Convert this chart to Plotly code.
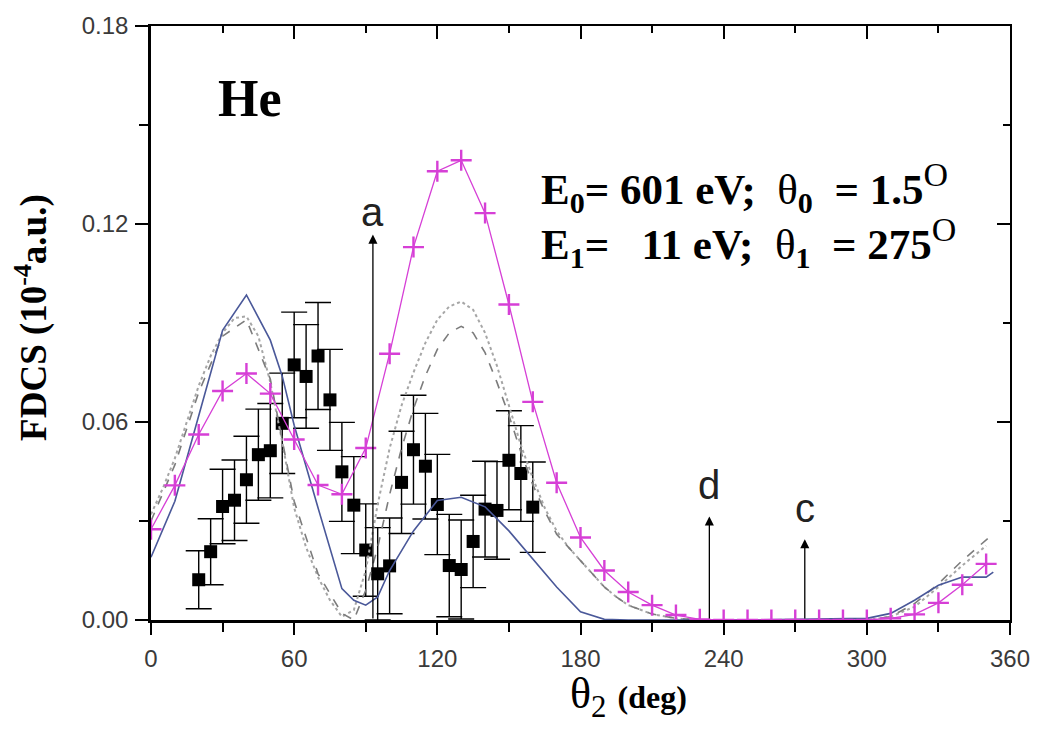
import plotly.graph_objects as go

# ---- experimental FDCS (black squares with error bars) ----
exp_theta = [20, 25, 30, 35, 40, 45, 50, 55, 60, 65, 70, 75, 80, 85, 90, 95, 100,
             105, 110, 115, 120, 125, 130, 135, 140, 145, 150, 155, 160]
exp_fdcs = [0.0122, 0.0207, 0.0344, 0.0363, 0.0425, 0.0501, 0.0513, 0.0596, 0.0773,
            0.0738, 0.0800, 0.0667, 0.0449, 0.0348, 0.0212, 0.0140, 0.0164,
            0.0417, 0.0516, 0.0466, 0.0350, 0.0165, 0.0153, 0.0238, 0.0336,
            0.0332, 0.0484, 0.0444, 0.0342]
exp_err = [0.0088, 0.0100, 0.0113, 0.0122, 0.0132, 0.0138, 0.0143, 0.0152, 0.0160,
           0.0157, 0.0162, 0.0153, 0.0150, 0.0147, 0.0140, 0.0140, 0.0145,
           0.0155, 0.0165, 0.0160, 0.0152, 0.0155, 0.0150, 0.0140, 0.0145,
           0.0148, 0.0150, 0.0145, 0.0137]

# ---- theory with crosses (magenta) ----
cross_theta = [0, 10, 20, 30, 40, 50, 60, 70, 80, 90, 100, 110, 120, 130, 140, 150,
               160, 170, 180, 190, 200, 210, 220, 230, 240, 250, 260, 270, 280, 290,
               300, 310, 320, 330, 340, 350]
cross_fdcs = [0.0275, 0.0408, 0.0562, 0.0694, 0.0747, 0.0686, 0.0547, 0.0409, 0.0381,
              0.0521, 0.0807, 0.1130, 0.1360, 0.1393, 0.1233, 0.0956, 0.0661, 0.0416,
              0.0250, 0.0150, 0.0085, 0.0045, 0.0015, 0.0002, 0.0, 0.0, 0.0, 0.0, 0.0,
              0.0, 0.0, 0.0005, 0.0017, 0.0052, 0.0107, 0.0170]

# ---- theory, solid blue ----
blue_theta = [0, 10, 20, 30, 40, 50, 55, 60, 70, 80, 85, 90, 95, 100, 110, 120, 130,
              140, 150, 160, 170, 180, 190, 200, 250, 300, 310, 320, 330, 340, 350, 353]
blue_fdcs = [0.0190, 0.0360, 0.0619, 0.0878, 0.0985, 0.0848, 0.0739, 0.0590, 0.0340,
             0.0095, 0.0060, 0.0045, 0.0070, 0.0150, 0.0270, 0.0362, 0.0372, 0.0343,
             0.0270, 0.0185, 0.0100, 0.0025, 0.0002, 0.0, 0.0, 0.0005, 0.0020,
             0.0060, 0.0105, 0.0130, 0.0130, 0.0145]

# ---- theory, dotted grey ----
dot_theta = [0, 5, 10, 15, 20, 25, 30, 35, 40, 45, 50, 55, 60, 65, 70, 75, 80, 85, 90,
             95, 100, 105, 110, 115, 120, 125, 130, 135, 140, 145, 150, 155, 160, 165,
             170, 175, 180, 185, 190, 195, 200, 210, 220, 230, 300, 310, 320, 330,
             340, 350]
dot_fdcs = [0.0320, 0.0400, 0.0490, 0.0600, 0.0710, 0.0800, 0.0870, 0.0915, 0.0920,
            0.0860, 0.0720, 0.0540, 0.0340, 0.0220, 0.0130, 0.0060, 0.0010, 0.0030,
            0.0150, 0.0350, 0.0520, 0.0650, 0.0750, 0.0840, 0.0910, 0.0950, 0.0965,
            0.0940, 0.0870, 0.0770, 0.0650, 0.0530, 0.0430, 0.0340, 0.0270, 0.0220,
            0.0180, 0.0140, 0.0100, 0.0070, 0.0045, 0.0018, 0.0005, 0.0, 0.0,
            0.0010, 0.0040, 0.0100, 0.0165, 0.0225]

# ---- theory, dashed grey ----
dash_theta = [0, 10, 20, 30, 40, 50, 60, 70, 80, 85, 90, 95, 100, 105, 110, 115, 120,
              125, 130, 135, 140, 145, 150, 155, 160, 165, 170, 175, 180, 185, 190,
              195, 200, 210, 220, 230, 300, 310, 320, 330, 340, 352]
dash_fdcs = [0.0300, 0.0470, 0.0690, 0.0860, 0.0910, 0.0730, 0.0360, 0.0140, 0.0020,
             0.0, 0.0090, 0.0220, 0.0380, 0.0520, 0.0640, 0.0740, 0.0820, 0.0870,
             0.0890, 0.0870, 0.0810, 0.0720, 0.0620, 0.0510, 0.0410, 0.0330, 0.0260,
             0.0220, 0.0180, 0.0140, 0.0100, 0.0070, 0.0045, 0.0018, 0.0005, 0.0,
             0.0, 0.0010, 0.0050, 0.0110, 0.0180, 0.0255]

# arrows marking special directions: (label, angle, arrow tip height, label height)
arrow_labels = ["a", "d", "c"]
arrow_theta = [93, 234, 274]
arrow_tip = [0.1168, 0.0314, 0.0245]
arrow_text_y = [0.1235, 0.0410, 0.0340]

x_ticks = [0, 60, 120, 180, 240, 300, 360]
y_ticks = [0.00, 0.06, 0.12, 0.18]
y_ticktext = ["0.00", "0.06", "0.12", "0.18"]

MAGENTA = "#d63fd6"
BLUE = "#4a5899"
SERIF = "Liberation Serif"
SANS = "Liberation Sans"

fig = go.Figure()

fig.add_trace(go.Scatter(
    x=exp_theta, y=exp_fdcs, mode="markers",
    marker=dict(symbol="square", size=13, color="black"),
    error_y=dict(type="data", array=exp_err, visible=True,
                 color="black", thickness=1.4, width=13),
    showlegend=False))

fig.add_trace(go.Scatter(
    x=dot_theta, y=dot_fdcs, mode="lines",
    line=dict(color="#a6a6a6", width=2, dash="dot"), showlegend=False))

fig.add_trace(go.Scatter(
    x=dash_theta, y=dash_fdcs, mode="lines",
    line=dict(color="#7c7c7c", width=1.6, dash="dash"), showlegend=False))

fig.add_trace(go.Scatter(
    x=blue_theta, y=blue_fdcs, mode="lines",
    line=dict(color=BLUE, width=1.6), showlegend=False))

# the crossed curve sits on the top/right frame axes (same ranges as bottom/left)
fig.add_trace(go.Scatter(
    x=cross_theta, y=cross_fdcs, mode="lines+markers",
    xaxis="x2", yaxis="y2",
    line=dict(color=MAGENTA, width=1.3),
    marker=dict(symbol="cross-thin", size=15, color=MAGENTA,
                line=dict(color=MAGENTA, width=2.4)),
    showlegend=False))

axis_common = dict(showgrid=False, zeroline=False, showline=True,
                   linecolor="black", tickcolor="black", tickwidth=1.5)

fig.update_layout(
    width=1042, height=747,
    margin=dict(l=151, r=30, t=19, b=127),
    paper_bgcolor="white", plot_bgcolor="white",
    showlegend=False,
    xaxis=dict(range=[0, 360], tickvals=x_ticks, ticks="outside", ticklen=12,
               linewidth=2.5,
               minor=dict(dtick=30, ticks="outside", ticklen=9,
                          tickcolor="black", tickwidth=1.5),
               tickfont=dict(family=SANS, size=24, color="#3a3a3a"),
               ticklabelstandoff=3, **axis_common),
    yaxis=dict(range=[0, 0.18], tickvals=y_ticks, ticktext=y_ticktext,
               ticks="outside", ticklen=13, linewidth=2.5,
               minor=dict(dtick=0.03, ticks="outside", ticklen=9,
                          tickcolor="black", tickwidth=1.5),
               tickfont=dict(family=SANS, size=24, color="#3a3a3a"),
               ticklabelstandoff=2, **axis_common),
    xaxis2=dict(range=[0, 360], overlaying="x", side="top", anchor="y2",
                tickvals=x_ticks, ticks="inside", ticklen=13, showticklabels=False,
                linewidth=2,
                minor=dict(dtick=30, ticks="inside", ticklen=7,
                           tickcolor="black", tickwidth=1.5),
                **axis_common),
    yaxis2=dict(range=[0, 0.18], overlaying="y", side="right", anchor="x2",
                tickvals=y_ticks, ticks="inside", ticklen=13, showticklabels=False,
                linewidth=2,
                minor=dict(dtick=0.03, ticks="inside", ticklen=7,
                           tickcolor="black", tickwidth=1.5),
                **axis_common),
)

annotations = []

# arrows and their letters
for lab, th, tip, ty in zip(arrow_labels, arrow_theta, arrow_tip, arrow_text_y):
    annotations.append(dict(
        x=th, y=tip, xref="x", yref="y", ax=th, ay=0, axref="x", ayref="y",
        text="", showarrow=True, arrowhead=2, arrowsize=1.4, arrowwidth=1.3,
        arrowcolor="black"))
    annotations.append(dict(
        x=th, y=ty, xref="x", yref="y", text=lab, showarrow=False,
        xanchor="center", yanchor="middle",
        font=dict(family=SANS, size=40, color="#222")))

# target label
annotations.append(dict(
    x=0.115, y=0.878, xref="paper", yref="paper", text="<b>He</b>",
    showarrow=False, xanchor="center", yanchor="middle",
    font=dict(family=SERIF, size=52, color="black")))

NB = "\u00a0"
th = '<span style="font-weight:normal">θ</span>'
deg = '<sup><span style="font-weight:normal;font-size:34px">O</span></sup>'
line1 = f"<b>E<sub>0</sub>={NB}601{NB}eV;{NB}{NB}</b>{th}<b><sub>0</sub>{NB}{NB}={NB}1.5</b>{deg}"
line2 = f"<b>E<sub>1</sub>={NB}{NB}{NB}11{NB}eV;{NB}{NB}</b>{th}<b><sub>1</sub>{NB}{NB}={NB}275</b>{deg}"
annotations.append(dict(
    x=0.452, y=0.728, xref="paper", yref="paper", text=line1, showarrow=False,
    xanchor="left", yanchor="middle",
    font=dict(family=SERIF, size=43, color="black")))
annotations.append(dict(
    x=0.452, y=0.635, xref="paper", yref="paper", text=line2, showarrow=False,
    xanchor="left", yanchor="middle",
    font=dict(family=SERIF, size=43, color="black")))

# axis titles
annotations.append(dict(
    x=-0.1394, y=0.509, xref="paper", yref="paper",
    text="<b>FDCS (10<sup>-4</sup>a.u.)</b>", textangle=-90, showarrow=False,
    xanchor="center", yanchor="middle",
    font=dict(family=SERIF, size=37, color="black")))
annotations.append(dict(
    x=0.556, y=-0.128, xref="paper", yref="paper",
    text='θ<sub>2</sub> <span style="font-size:32px"><b>(deg)</b></span>',
    showarrow=False, xanchor="center", yanchor="middle",
    font=dict(family=SERIF, size=44, color="black")))

fig.update_layout(annotations=annotations)

fig.write_html("out.html")
